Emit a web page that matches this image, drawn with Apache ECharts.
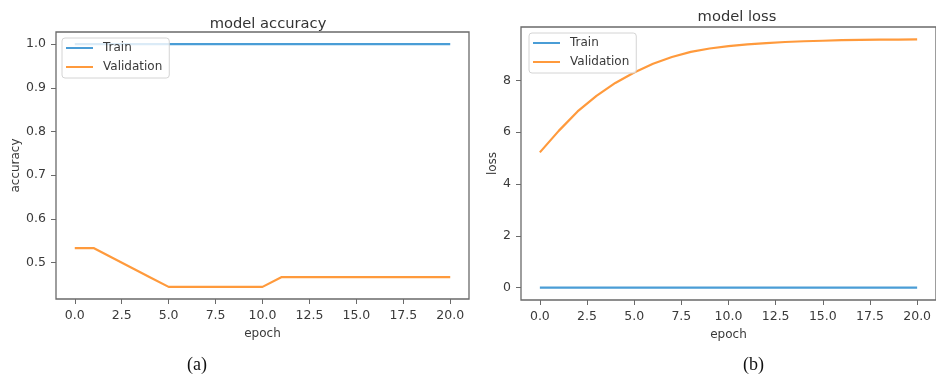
<!DOCTYPE html>
<html>
<head>
<meta charset="utf-8">
<script src="https://cdn.jsdelivr.net/npm/echarts@6/dist/echarts.min.js"></script>
<style>
html,body{margin:0;padding:0;background:#fff;}
#chart{width:936px;height:381px;}
</style>
</head>
<body>
<div id="chart"></div>
<script>
// ---- data ----
const epochs = [0,1,2,3,4,5,6,7,8,9,10,11,12,13,14,15,16,17,18,19,20];
const xTicks = [0,2.5,5,7.5,10,12.5,15,17.5,20];
const accTrain = [1,1,1,1,1,1,1,1,1,1,1,1,1,1,1,1,1,1,1,1,1];
const accVal = [0.5333,0.5333,0.5111,0.4889,0.4667,0.4444,0.4444,0.4444,0.4444,0.4444,0.4444,
                0.4667,0.4667,0.4667,0.4667,0.4667,0.4667,0.4667,0.4667,0.4667,0.4667];
const accTicks = [0.5,0.6,0.7,0.8,0.9,1.0];
const lossTrain = [0,0,0,0,0,0,0,0,0,0,0,0,0,0,0,0,0,0,0,0,0];
const lossVal = [5.22,6.05,6.8,7.4,7.9,8.3,8.64,8.9,9.1,9.23,9.32,9.39,9.44,9.48,9.51,9.53,9.55,9.56,9.57,9.575,9.58];
const lossTicks = [0,2,4,6,8];

const BLUE = '#4a9dd6';
const ORANGE = '#ff9a3c';
const SPINE = '#6a6a6a';
const TXT = '#3a3a3a';
const FONT = 'DejaVu Sans';

const pairs = (ys) => epochs.map((e,i)=>[e, ys[i]]);

function xAxis(gridIndex){
  return {
    type:'value', gridIndex, min:-1, max:21,
    name:'epoch', nameLocation:'middle', nameGap:29,
    nameTextStyle:{fontFamily:FONT,fontSize:12,color:TXT},
    axisLine:{show:false,onZero:false},
    splitLine:{show:false},
    axisTick:{show:true,customValues:xTicks,length:5,lineStyle:{color:SPINE,width:1}},
    axisLabel:{customValues:xTicks,formatter:v=>Number(v).toFixed(1),fontFamily:FONT,fontSize:12.5,color:TXT,margin:10}
  };
}
function yAxis(gridIndex,min,max,ticks,name,gap,dec){
  return {
    type:'value', gridIndex, min, max,
    name, nameLocation:'middle', nameGap:gap,
    nameTextStyle:{fontFamily:FONT,fontSize:12,color:TXT},
    axisLine:{show:false,onZero:false},
    splitLine:{show:false},
    axisTick:{show:true,customValues:ticks,length:5,lineStyle:{color:SPINE,width:1}},
    axisLabel:{customValues:ticks,formatter:v=>Number(v).toFixed(dec),fontFamily:FONT,fontSize:12.5,color:TXT,margin:10}
  };
}
function legend(left,top,gap){
  return {
    orient:'vertical', left, top,
    data:['Train','Validation'],
    icon:'rect', itemWidth:27, itemHeight:2, itemGap:gap,
    backgroundColor:'rgba(255,255,255,0.8)',
    borderColor:'#d4d4d4', borderWidth:1, borderRadius:3,
    padding:[4,7,5,4],
    textStyle:{fontFamily:FONT,fontSize:12,color:TXT,padding:[0,0,0,5]},
    selectedMode:false
  };
}
function line(name,x,y,data,color){
  return {
    name, type:'line', xAxisIndex:x, yAxisIndex:y, data,
    showSymbol:false, symbol:'none', smooth:false, animation:false,
    lineStyle:{color,width:2.2}, itemStyle:{color}
  };
}

const chart = echarts.init(document.getElementById('chart'));
chart.setOption({
  animation:false,
  backgroundColor:'#fff',
  title:[
    {text:'model accuracy',left:263,top:12,textAlign:'center',textStyle:{fontFamily:FONT,fontSize:14.7,fontWeight:'normal',color:'#333'}},
    {text:'model loss',left:732,top:5,textAlign:'center',textStyle:{fontFamily:FONT,fontSize:14.7,fontWeight:'normal',color:'#333'}}
  ],
  legend:[legend(62,38,7),legend(529,33,7)],
  grid:[
    {left:56,top:32,width:413,height:267,show:true,borderColor:SPINE,borderWidth:1.3,backgroundColor:'transparent'},
    {left:521,top:27,width:421,height:273,show:true,borderColor:SPINE,borderWidth:1.3,backgroundColor:'transparent'}
  ],
  xAxis:[xAxis(0),xAxis(1)],
  yAxis:[
    yAxis(0,0.4167,1.0278,accTicks,'accuracy',34,1),
    yAxis(1,-0.48,10.06,lossTicks,'loss',22,0)
  ],
  series:[
    line('Train',0,0,pairs(accTrain),BLUE),
    line('Validation',0,0,pairs(accVal),ORANGE),
    line('Train',1,1,pairs(lossTrain),BLUE),
    line('Validation',1,1,pairs(lossVal),ORANGE)
  ],
  graphic:[
    {type:'text',left:187,top:356,style:{text:'(a)',fontFamily:'Liberation Serif',fontSize:18,fill:'#111'}},
    {type:'text',left:743,top:356,style:{text:'(b)',fontFamily:'Liberation Serif',fontSize:18,fill:'#111'}}
  ]
});
</script>
</body>
</html>
